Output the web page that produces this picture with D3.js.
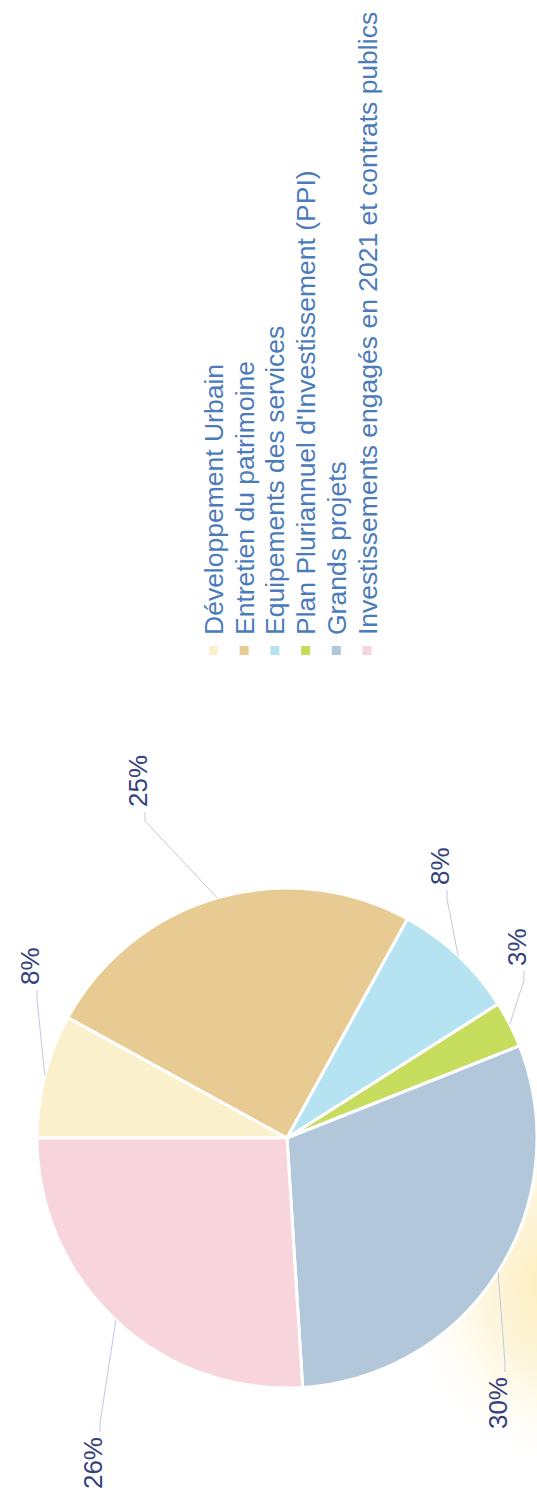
<!DOCTYPE html>
<html>
<head>
<meta charset="utf-8">
<script src="https://cdn.jsdelivr.net/npm/d3@7"></script>
<style>
  html, body { margin: 0; padding: 0; background: #fff; }
  svg { display: block; }
  text { font-family: "Liberation Sans", Arial, sans-serif; }
</style>
</head>
<body>
<svg width="537" height="1499"></svg>
<script>
// chart data
const categories = [
    "Développement Urbain",
    "Entretien du patrimoine",
    "Equipements des services",
    "Plan Pluriannuel d'Investissement (PPI)",
    "Grands projets",
    "Investissements engagés en 2021 et contrats publics"
];
const shares = [8, 25, 8, 3, 30, 26];
const colors = ["#fbf0cc", "#e7cb93", "#b5e3f1", "#c6dd5e", "#b3c7db", "#f8d5dc"];

// label placement (page is turned a quarter, coords below are in the unturned frame)
const labelAt = [
    [514, 38.5, "start"],
    [692, 146.5, "start"],
    [614, 448.5, "start"],
    [533, 525.5, "start"],
    [122, 506.5, "end"],
    [62, 101.5, "end"]
];

let svg = d3.select("svg"),
    width = +svg.attr("width"),
    height = +svg.attr("height");

// whole chart is drawn landscape and turned -90deg
let g = svg.append("g")
    .attr("transform", "translate(0," + height + ") rotate(-90)");

let cx = 361, cy = 287, radius = 250;

// watercolor splash behind the pie
let defs = svg.append("defs");
let grad = defs.append("radialGradient").attr("id", "splash");
grad.append("stop").attr("offset", "0%").attr("stop-color", "#fbe7a0").attr("stop-opacity", 0.8);
grad.append("stop").attr("offset", "50%").attr("stop-color", "#fcefc2").attr("stop-opacity", 0.55);
grad.append("stop").attr("offset", "100%").attr("stop-color", "#fff8e0").attr("stop-opacity", 0);

g.append("ellipse")
    .attr("cx", 215)
    .attr("cy", 560)
    .attr("rx", 180)
    .attr("ry", 150)
    .attr("fill", "url(#splash)");

let pie = d3.pie()
    .sort(null)
    .value(function (d) {
        return d;
    });

let arc = d3.arc()
    .innerRadius(0)
    .outerRadius(radius);

let edge = d3.arc()
    .innerRadius(radius)
    .outerRadius(radius);

let arcs = pie(shares);

let pieG = g.append("g")
    .attr("transform", "translate(" + cx + "," + cy + ")");

pieG.selectAll("path")
    .data(arcs)
    .enter().append("path")
    .attr("d", arc)
    .attr("fill", function (d, i) {
        return colors[i];
    })
    .attr("stroke", "#fff")
    .attr("stroke-width", 3)
    .attr("stroke-linejoin", "round");

// leader lines
g.selectAll(".leader")
    .data(arcs)
    .enter().append("polyline")
    .attr("class", "leader")
    .attr("fill", "none")
    .attr("stroke", "#c2c9de")
    .attr("stroke-width", 1)
    .attr("points", function (d, i) {
        let p = edge.centroid(d),
            l = labelAt[i],
            dir = l[2] === "start" ? -1 : 1,
            nx = l[0] + dir * 5,
            ny = l[1] - 1.5;
        return [
            [cx + p[0], cy + p[1]],
            [nx + dir * 9, ny],
            [nx, ny]
        ].map(function (q) { return q.join(","); }).join(" ");
    });

// percentage labels
g.selectAll(".pct")
    .data(arcs)
    .enter().append("text")
    .attr("class", "pct")
    .attr("x", function (d, i) { return labelAt[i][0]; })
    .attr("y", function (d, i) { return labelAt[i][1]; })
    .attr("text-anchor", function (d, i) { return labelAt[i][2]; })
    .attr("font-size", 26)
    .attr("fill", "#34427e")
    .text(function (d) {
        return d.data + "%";
    });

// legend
let legend = g.append("g")
    .attr("transform", "translate(844,223)");

let item = legend.selectAll(".item")
    .data(categories)
    .enter().append("g")
    .attr("class", "item")
    .attr("transform", function (d, i) {
        return "translate(0," + (i * 30.7) + ")";
    });

item.append("rect")
    .attr("x", 0)
    .attr("y", -14)
    .attr("width", 9)
    .attr("height", 9)
    .attr("fill", function (d, i) {
        return colors[i];
    });

item.append("text")
    .attr("x", 20)
    .attr("y", 0)
    .attr("font-size", 26.5)
    .attr("fill", "#4a7bbb")
    .text(function (d) {
        return d;
    });
</script>
</body>
</html>
